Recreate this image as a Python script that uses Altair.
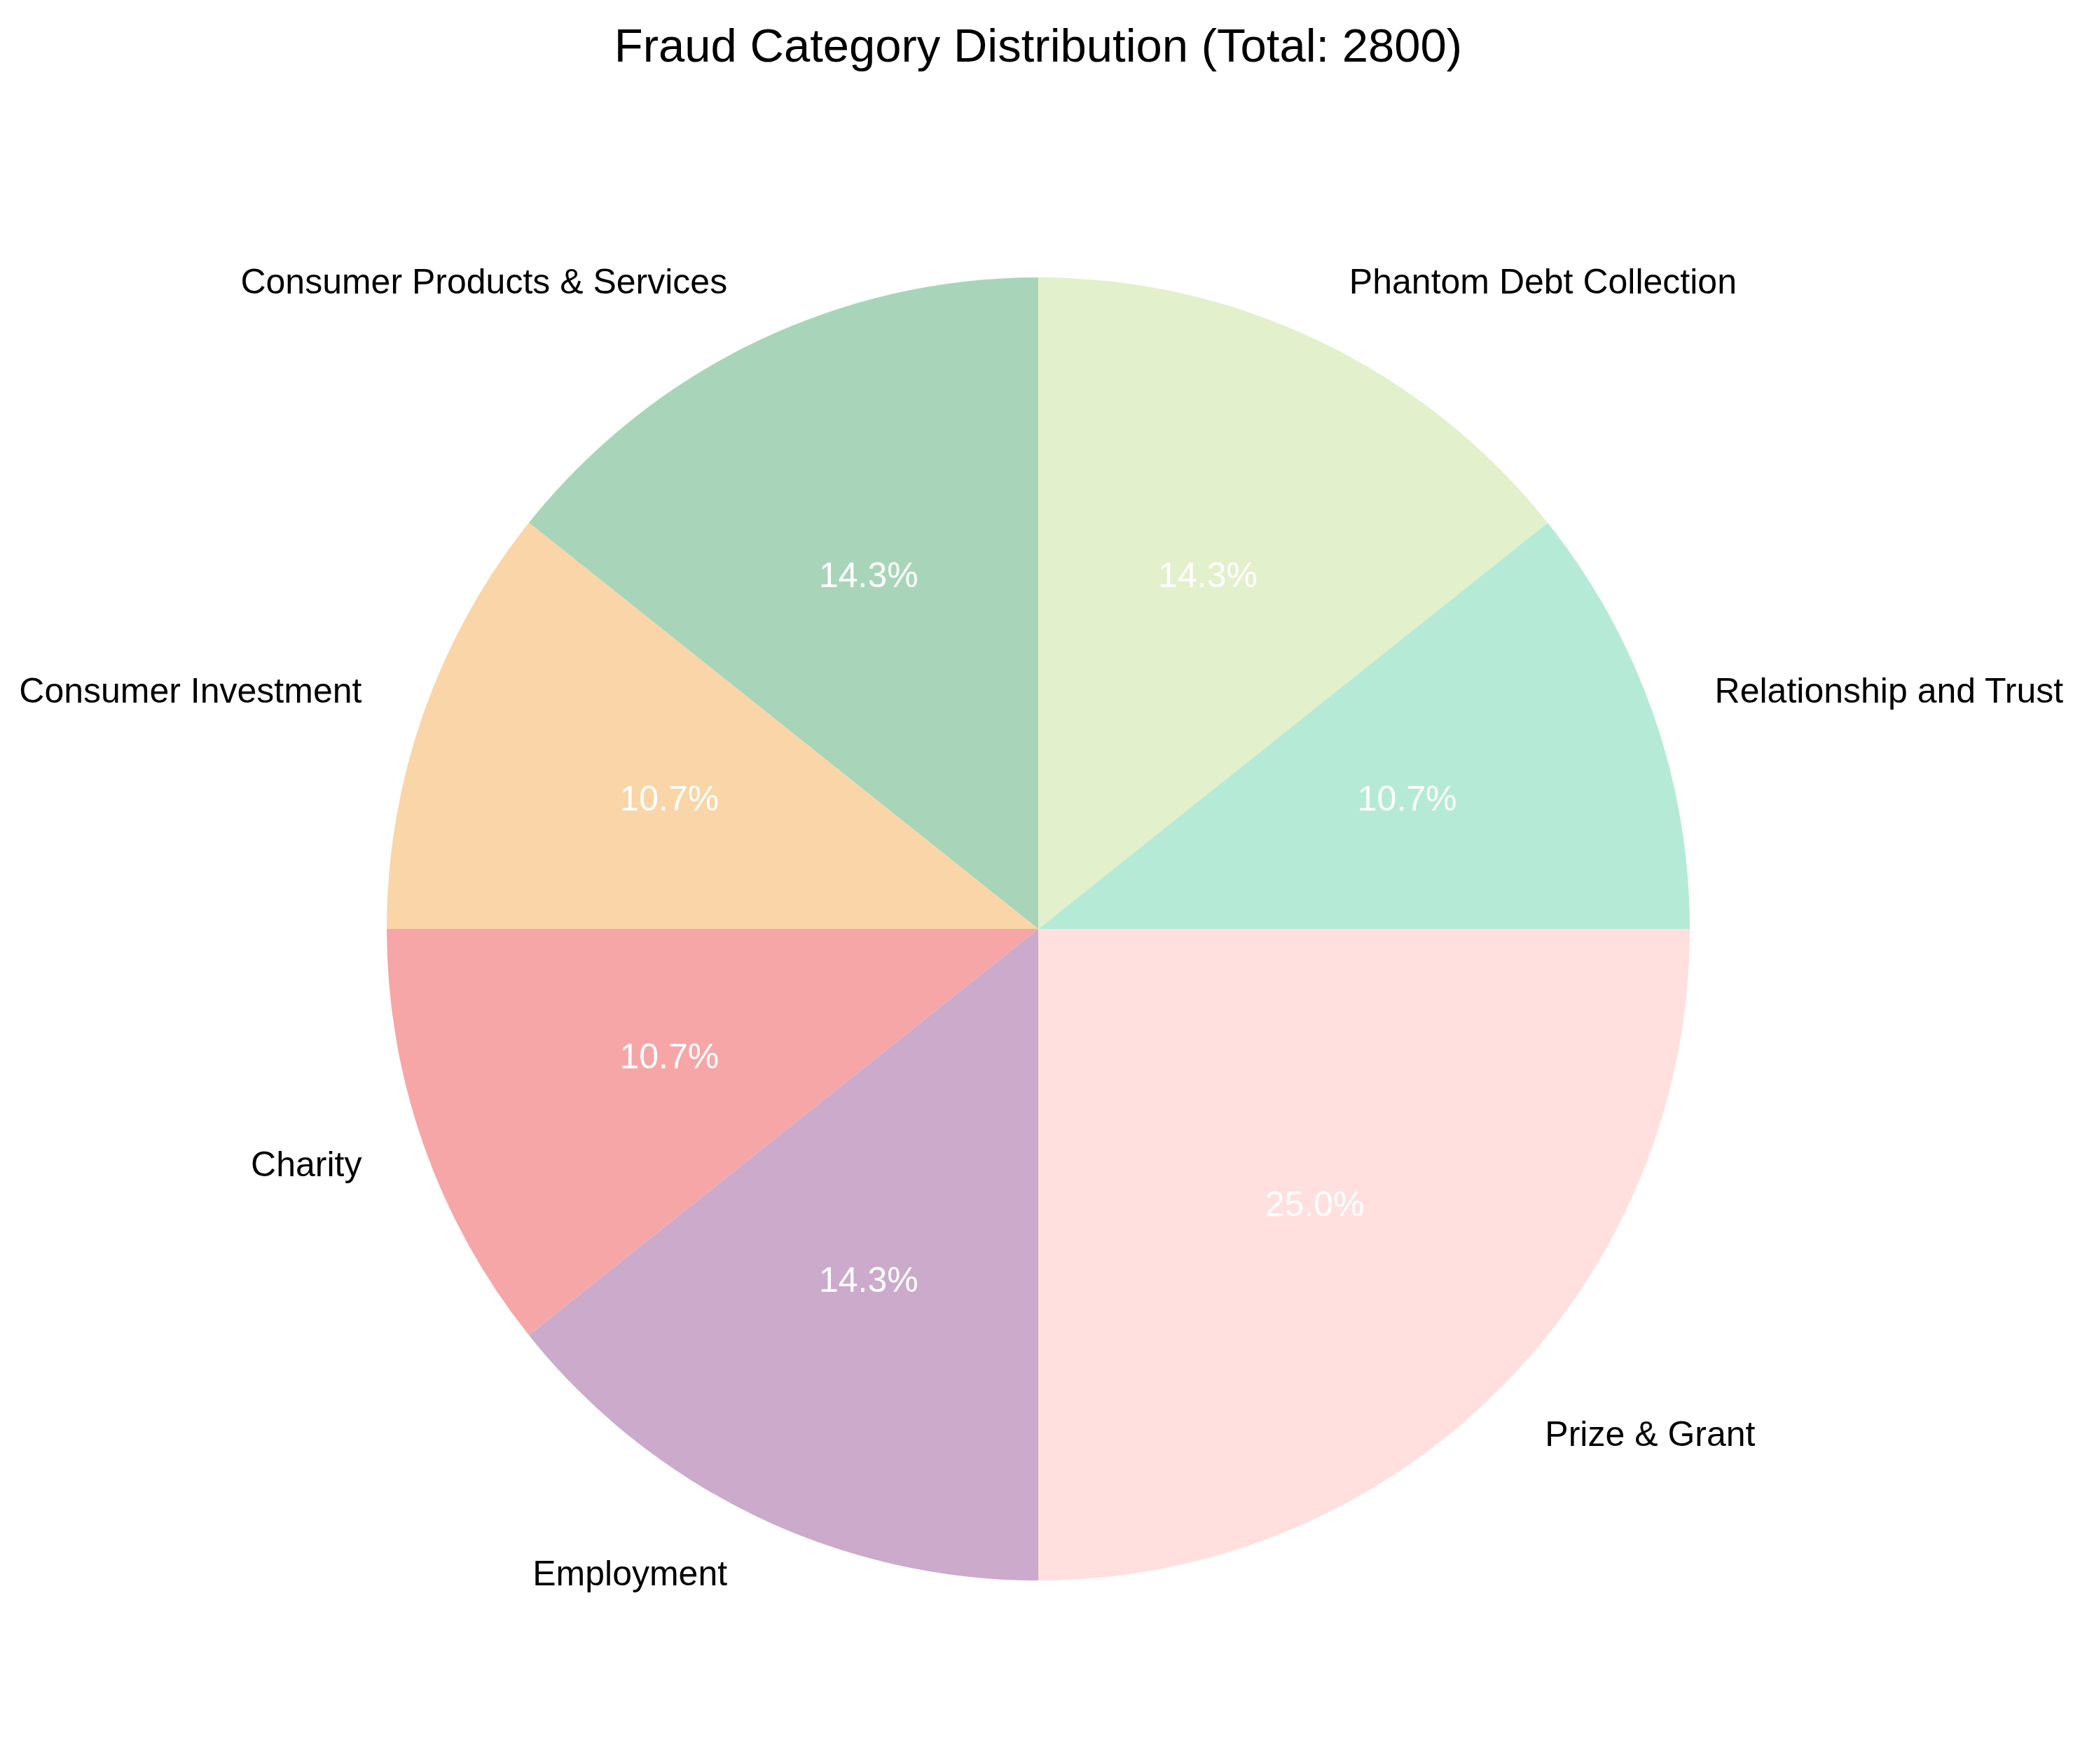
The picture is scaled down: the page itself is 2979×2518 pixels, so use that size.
import math
import altair as alt
import pandas as pd

# Data (matplotlib order, counter-clockwise from 12 o'clock)
categories = [
    "Consumer Products & Services",
    "Consumer Investment",
    "Charity",
    "Employment",
    "Prize & Grant",
    "Relationship and Trust",
    "Phantom Debt Collection",
]
counts = [400, 300, 300, 400, 700, 300, 400]
colors = ["#A8D5BA", "#F9D5A7", "#F6A6A6", "#CBAACB", "#FFE0DE", "#B5EAD7", "#E2F0CB"]

total = sum(counts)

# Vega draws clockwise, so reverse the drawing order to mimic counter-clockwise
df = pd.DataFrame({
    "category": categories,
    "count": counts,
    "order": list(range(len(categories), 0, -1)),
})

FONT = "Liberation Sans"
R = 930

theta_scale = alt.Scale(domain=[0, total], range=[0, 2 * math.pi])
color_scale = alt.Scale(domain=categories, range=colors)

base = (
    alt.Chart(df)
    .transform_window(cum="sum(count)", sort=[alt.SortField("order")], frame=[None, 0])
    .transform_calculate(
        start="datum.cum - datum.count",
        mid="datum.cum - datum.count / 2",
        pct=f"datum.count / {total}",
    )
)

arcs = base.mark_arc(radius=R, stroke=None).encode(
    theta=alt.Theta("start:Q", scale=theta_scale, stack=None),
    theta2="end:Q",
    color=alt.Color("category:N", scale=color_scale, legend=None),
).transform_calculate(end="datum.cum")

pct_text = base.mark_text(
    radius=R * 0.6, font=FONT, fontSize=50, color="white", align="center", baseline="middle"
).encode(
    theta=alt.Theta("mid:Q", scale=theta_scale, stack=None),
    text=alt.Text("pct:Q", format=".1%"),
)

right_labels = base.transform_filter(f"datum.mid < {total / 2}").mark_text(
    radius=R * 1.1, font=FONT, fontSize=50, color="black", align="left", baseline="middle"
).encode(
    theta=alt.Theta("mid:Q", scale=theta_scale, stack=None),
    text="category:N",
)

left_labels = base.transform_filter(f"datum.mid >= {total / 2}").mark_text(
    radius=R * 1.1, font=FONT, fontSize=50, color="black", align="right", baseline="middle"
).encode(
    theta=alt.Theta("mid:Q", scale=theta_scale, stack=None),
    text="category:N",
)

chart = (
    alt.layer(arcs, pct_text, right_labels, left_labels)
    .properties(
        width=2948,
        height=2440,
        padding={"top": 26, "left": 0, "right": 0, "bottom": 0},
        title=alt.TitleParams(
            "Fraud Category Distribution (Total: 2800)",
            font=FONT,
            fontSize=67,
            fontWeight="normal",
            color="black",
            anchor="middle",
            offset=4,
        ),
    )
    .configure_view(stroke=None)
    .configure(background="white")
)

chart.save("out.html", embed_options={"renderer": "svg", "actions": False})
